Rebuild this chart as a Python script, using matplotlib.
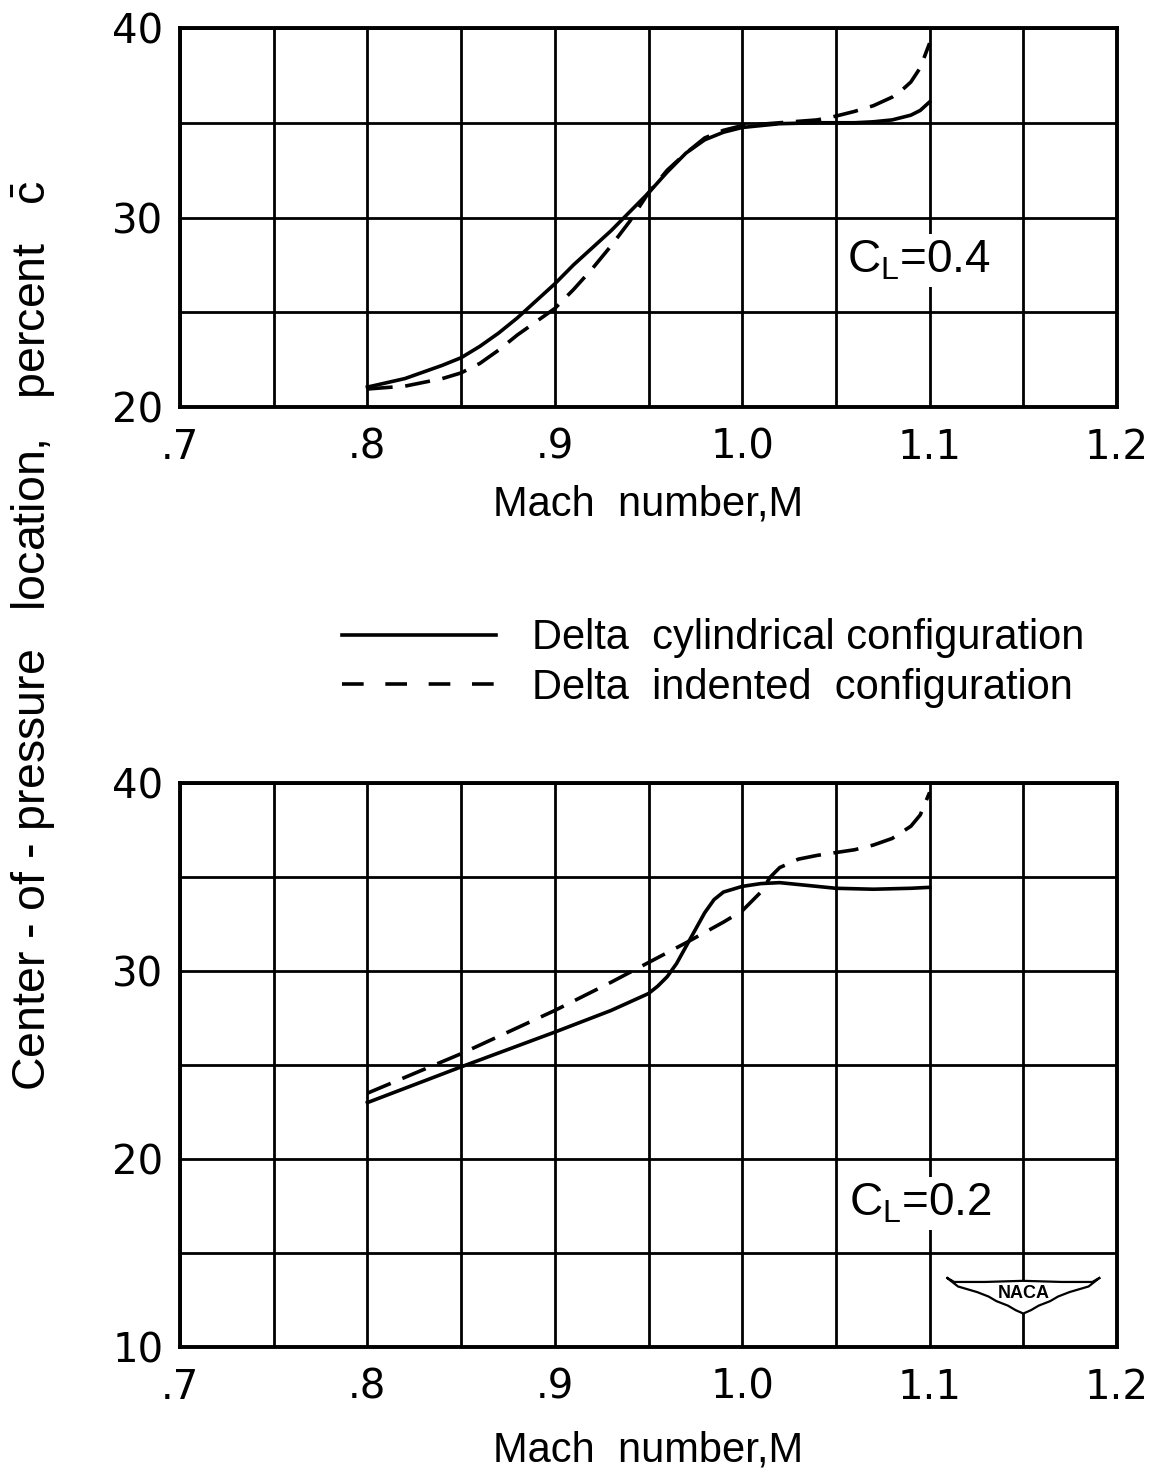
import matplotlib
matplotlib.use("Agg")
import matplotlib.pyplot as plt
from matplotlib.lines import Line2D
from matplotlib.patches import Polygon

plt.rcParams['font.family'] = ['Liberation Sans', 'DejaVu Sans']
plt.rcParams['mathtext.fontset'] = 'custom'
plt.rcParams['mathtext.rm'] = 'Liberation Sans'

# C_L = 0.4 (upper chart)
mach_04_cyl = [0.80, 0.82, 0.84, 0.85, 0.86, 0.87, 0.88, 0.89, 0.90, 0.91, 0.92, 0.93, 0.94,
               0.95, 0.96, 0.97, 0.98, 0.99, 1.00, 1.02, 1.04, 1.06, 1.07, 1.08, 1.09, 1.095, 1.10]
cp_04_cyl = [21.05, 21.5, 22.2, 22.6, 23.2, 23.9, 24.7, 25.6, 26.5, 27.5, 28.4, 29.3, 30.3,
             31.3, 32.4, 33.4, 34.1, 34.5, 34.75, 34.95, 35.0, 35.0, 35.05, 35.15, 35.4, 35.65, 36.1]
mach_04_ind = [0.80, 0.82, 0.84, 0.85, 0.86, 0.87, 0.88, 0.89, 0.90, 0.91, 0.92, 0.93, 0.94,
               0.95, 0.96, 0.97, 0.98, 0.99, 1.00, 1.02, 1.04, 1.05, 1.06, 1.07, 1.08, 1.085,
               1.09, 1.095, 1.10]
cp_04_ind = [20.95, 21.1, 21.5, 21.8, 22.3, 23.0, 23.8, 24.5, 25.2, 26.2, 27.3, 28.5, 29.8,
             31.3, 32.5, 33.4, 34.2, 34.6, 34.85, 35.0, 35.15, 35.35, 35.6, 35.9, 36.35, 36.7,
             37.15, 37.9, 39.2]

# C_L = 0.2 (lower chart)
mach_02_cyl = [0.80, 0.85, 0.90, 0.93, 0.95, 0.955, 0.96, 0.965, 0.97, 0.975, 0.98, 0.985, 0.99,
               1.00, 1.01, 1.02, 1.03, 1.04, 1.05, 1.07, 1.09, 1.10]
cp_02_cyl = [23.0, 24.9, 26.75, 27.9, 28.8, 29.2, 29.7, 30.4, 31.3, 32.2, 33.1, 33.8, 34.2,
             34.5, 34.65, 34.7, 34.6, 34.5, 34.4, 34.35, 34.4, 34.45]
mach_02_ind = [0.80, 0.85, 0.90, 0.93, 0.95, 0.97, 0.99, 1.00, 1.01, 1.015, 1.02, 1.03, 1.04,
               1.05, 1.06, 1.07, 1.08, 1.09, 1.095, 1.10]
cp_02_ind = [23.5, 25.6, 27.9, 29.4, 30.45, 31.5, 32.6, 33.2, 34.2, 35.0, 35.5, 35.95, 36.15,
             36.3, 36.45, 36.7, 37.05, 37.7, 38.3, 39.5]

x_ticks = [0.7, 0.8, 0.9, 1.0, 1.1, 1.2]
x_labels = ['.7', '.8', '.9', '1.0', '1.1', '1.2']
x_grid = [0.75, 0.85, 0.95, 1.05, 1.15]

lw = 2.6
dash = (0, (7, 3.5))

fig = plt.figure(figsize=(11.64, 14.71), dpi=100)
ax1 = fig.add_axes([180 / 1164, 1 - 407 / 1471, 937 / 1164, 379 / 1471])
ax2 = fig.add_axes([180 / 1164, 1 - 1347 / 1471, 937 / 1164, 564 / 1471])


def style(ax, ylo, yticks, ygrid):
    ax.set_xlim(0.7, 1.2)
    ax.set_ylim(ylo, 40)
    ax.set_xticks(x_ticks)
    ax.set_xticklabels(x_labels, fontfamily='DejaVu Sans', fontsize=29)
    ax.set_xticks(x_grid, minor=True)
    ax.set_yticks(yticks)
    ax.set_yticklabels([str(v) for v in yticks], fontfamily='DejaVu Sans', fontsize=29)
    ax.set_yticks(ygrid, minor=True)
    ax.tick_params(which='both', length=0)
    ax.tick_params(axis='x', pad=15)
    ax.tick_params(axis='y', pad=12)
    ax.grid(True, which='both', color='black', lw=2.0)
    ax.set_axisbelow(True)
    for s in ax.spines.values():
        s.set_linewidth(2.8)
    ax.set_xlabel('Mach  number,M', fontsize=30)


style(ax1, 20, [20, 30, 40], [25, 35])
style(ax2, 10, [10, 20, 30, 40], [15, 25, 35])
ax1.xaxis.labelpad = 12
ax2.xaxis.labelpad = 16

ax1.plot(mach_04_cyl, cp_04_cyl, color='black', lw=lw)
ax1.plot(mach_04_ind, cp_04_ind, color='black', lw=lw, linestyle=dash)
ax2.plot(mach_02_cyl, cp_02_cyl, color='black', lw=lw)
ax2.plot(mach_02_ind, cp_02_ind, color='black', lw=lw, linestyle=dash)

box = dict(fc='white', ec='none', pad=3)
ax1.text(1.056, 27.1, r'C$_{\mathregular{L}}$=0.4', fontsize=33, ha='left', va='baseline', bbox=box)
ax2.text(1.057, 17.0, r'C$_{\mathregular{L}}$=0.2', fontsize=33, ha='left', va='baseline', bbox=box)

# NACA wing emblem
cx, cy, hw, hh = 1.15, 12.8, 0.041, 1.2
wing = [(-1, 0.75), (-0.9, 0.55), (-0.5, 0.55), (0, 0.6), (0.5, 0.55), (0.9, 0.55), (1, 0.75),
        (0.85, 0.35), (0.6, 0.1), (0.45, -0.1), (0.35, -0.3), (0.2, -0.5), (0.1, -0.7), (0, -0.85),
        (-0.1, -0.7), (-0.2, -0.5), (-0.35, -0.3), (-0.45, -0.1), (-0.6, 0.1), (-0.85, 0.35)]
ax2.add_patch(Polygon([(cx + u * hw, cy + v * hh) for u, v in wing], closed=True,
                      fc='white', ec='black', lw=1.6, zorder=3))
ax2.text(cx, cy + 0.05, 'NACA', fontsize=13, fontweight='bold', ha='center', va='center', zorder=4)

handles = [Line2D([], [], color='black', lw=lw),
           Line2D([], [], color='black', lw=lw, linestyle=(0, (6, 6)))]
fig.legend(handles, ['Delta  cylindrical configuration', 'Delta  indented  configuration'],
           loc='center left', bbox_to_anchor=(342 / 1164, 1 - 663 / 1471), frameon=False,
           fontsize=30, handlelength=3.7, handletextpad=0.85, labelspacing=0.22,
           borderpad=0, borderaxespad=0)

fig.text(33 / 1164, 1 - 636 / 1471,
         r'Center - of - pressure   location,   percent   $\bar{\mathregular{c}}$',
         rotation=90, ha='center', va='center', fontsize=33.5)

fig.savefig('out.png', dpi=100)
